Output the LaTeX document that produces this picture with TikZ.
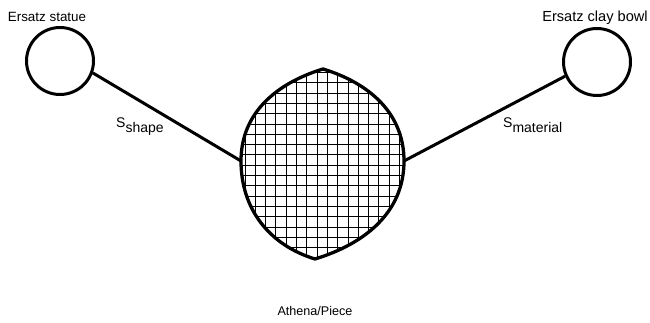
\documentclass[tikz,border=0pt]{standalone}
\usepackage{fontspec}
\setmainfont{Liberation Sans}
\usetikzlibrary{positioning}

\begin{document}
\begin{tikzpicture}[x=1pt, y=1pt,
  ersatz/.style={draw, circle, line width=3pt, minimum size=67pt, inner sep=0pt},
  link/.style={line width=3pt},
  rim/.style={line width=3.3pt},
  mesh/.style={line width=1pt, step=10.3pt},
  lbl/.style={font=\fontsize{#1}{16}\selectfont, inner sep=0pt},
  lbl/.default=14
]
\useasboundingbox (0,0) rectangle (650,323);

\node[ersatz] (statue) at (60,262) {};
\node[ersatz] (bowl) at (597,261) {};
\node[lbl=13.4, anchor=base] (statuelbl) at (47,301) {Ersatz statue};
\node[lbl=14.6, anchor=base] (bowllbl) at (595,301) {Ersatz clay bowl};

% the piece itself
\coordinate (pieceN) at (323,254);
\coordinate (pieceS) at (315,64);
\coordinate (pieceW) at (241,162);
\coordinate (pieceE) at (404,162);

\draw[link] (statue.-20) -- (pieceW);
\draw[link] (pieceE) -- (bowl.204);

\begin{scope}
  \clip (pieceN) to[out=197,in=90] (pieceW) to[out=-90,in=163] (pieceS)
        to[out=17,in=-90] (pieceE) to[out=90,in=-17] cycle;
  \draw[mesh, shift={(245,65)}] (-30,-30) grid (180,210);
\end{scope}
\draw[rim] (pieceN) to[out=197,in=90] (pieceW) to[out=-90,in=163] (pieceS)
      to[out=17,in=-90] (pieceE) to[out=90,in=-17] cycle;

\node[lbl, anchor=base west] (sshape) at (116,195)
  {S\raisebox{-5pt}{shape}};
\node[lbl, anchor=base west] (smaterial) at (503,195)
  {S\raisebox{-5pt}{material}};
\node[lbl=12.6, anchor=base] (piecelbl) at (315,7) {Athena/Piece};
\end{tikzpicture}
\end{document}
